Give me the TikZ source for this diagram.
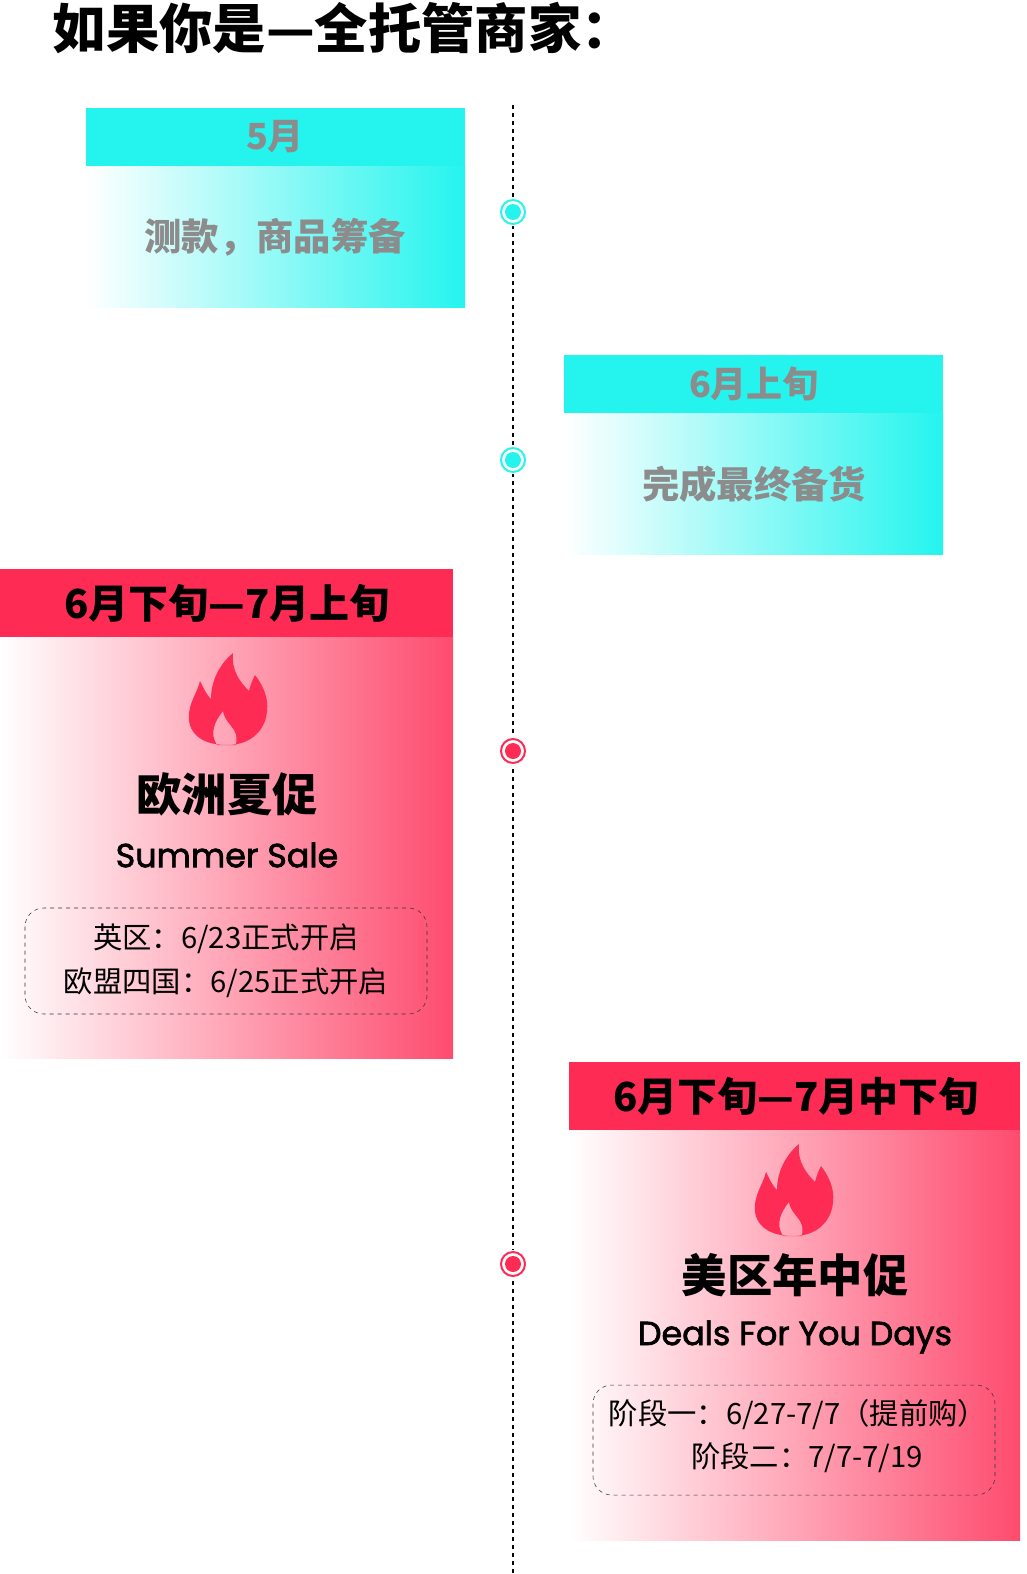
\documentclass[tikz,border=0pt]{standalone}
\usepackage{fontspec}
\setmainfont{Poppins}
\newfontfamily\cjk{Noto Sans CJK SC}
\usetikzlibrary{positioning}
\definecolor{tkcyan}{HTML}{25F4EE}
\definecolor{tkred}{HTML}{FE2C55}
\definecolor{tkgray}{HTML}{8C8C8C}
\tikzset{
  cyanhead/.style={fill=tkcyan,draw=none},
  redhead/.style={fill=tkred,draw=none},
  headtxt/.style={font=\cjk\bfseries\fontsize{27}{30}\selectfont,text=tkgray},
  bodytxt/.style={font=\cjk\bfseries\fontsize{28}{30}\selectfont,text=tkgray},
  redheadtxt/.style={font=\cjk\bfseries\fontsize{30}{32}\selectfont},
  eventtxt/.style={font=\cjk\bfseries\fontsize{34}{36}\selectfont},
  entxt/.style={font=\fontsize{25}{28}\selectfont\addfontfeature{FakeBold=2}},
  datetxt/.style={font=\cjk\fontsize{22}{33}\selectfont,align=center},
  datebox/.style={draw=black!80,dashed,rounded corners=14pt,thin}
}
\newcommand\flameat[1]{%
  \fill[tkred,even odd rule,shift={#1}]
    (0,0) .. controls (-28,0) and (-40,-14) .. (-38,-32)
    .. controls (-36,-46) and (-30,-52) .. (-27,-64)
    .. controls (-22,-54) and (-20,-50) .. (-16,-46)
    .. controls (-16,-66) and (-6,-82) .. (6,-92)
    .. controls (4,-74) and (14,-62) .. (22,-54)
    .. controls (24,-62) and (26,-66) .. (28,-70)
    .. controls (42,-52) and (42,-36) .. (38,-24)
    .. controls (32,-8) and (18,0) .. (0,0) -- cycle
    (-10,0) .. controls (-18,-12) and (-12,-24) .. (-4,-34)
    .. controls (-3,-26) and (4,-20) .. (7,-15)
    .. controls (11,-9) and (9,-3) .. (9,0) -- cycle;}
\begin{document}
\begin{tikzpicture}[x=0.75pt,y=-0.75pt]
\useasboundingbox (0,0) rectangle (1026,1574);
% title
\node[anchor=west,font=\cjk\bfseries\fontsize{40}{42}\selectfont] (title) at (48,28) {如果你是—全托管商家：};
% timeline
\draw[dashed,thick] (513,105) -- (513,1574);
% box 1
\shade[left color=white,right color=tkcyan] (86,166) rectangle (465,307);
\fill[cyanhead] (86,108) rectangle (465,166);
\node[headtxt] (may) at (275,137) {5月};
\node[bodytxt] (mayTxt) at (275,237) {测款，商品筹备};
% box 2
\shade[left color=white,right color=tkcyan] (564,413) rectangle (943,554);
\fill[cyanhead] (564,355) rectangle (943,413);
\node[headtxt] (june) at (754,384) {6月上旬};
\node[bodytxt] (juneTxt) at (754,484) {完成最终备货};
% box 3
\shade[left color=white,right color=tkred!85] (0,637) rectangle (453,1058);
\fill[redhead] (0,569) rectangle (453,637);
\node[redheadtxt] (euHead) at (227,603) {6月下旬—7月上旬};
\flameat{(227,745)}
\node[eventtxt] (euName) at (227,794) {欧洲夏促};
\node[entxt] (euEn) at (227,855) {Summer Sale};
\draw[datebox] (25,908) rectangle (427,1014);
\node[datetxt] (euDates) at (226,961) {英区：6/23正式开启\\欧盟四国：6/25正式开启};
% box 4
\shade[left color=white,right color=tkred!85] (569,1130) rectangle (1020,1540);
\fill[redhead] (569,1062) rectangle (1020,1130);
\node[redheadtxt] (usHead) at (796,1096) {6月下旬—7月中下旬};
\flameat{(793,1236)}
\node[eventtxt] (usName) at (795,1275) {美区年中促};
\node[entxt] (usEn) at (795,1337) {Deals For You Days};
\draw[datebox] (593,1385) rectangle (995,1495);
\node[datetxt] (usDates1) at (798,1415) {阶段一：6/27-7/7（提前购）};
\node[datetxt] (usDates2) at (807,1458) {阶段二：7/7-7/19};
% markers
\foreach \y/\c in {212/tkcyan,460/tkcyan,751/tkred,1264/tkred}{
  \fill[white] (513,\y) circle (14);
  \draw[\c,line width=1.5pt] (513,\y) circle (12);
  \fill[\c] (513,\y) circle (8);
}
\end{tikzpicture}
\end{document}
